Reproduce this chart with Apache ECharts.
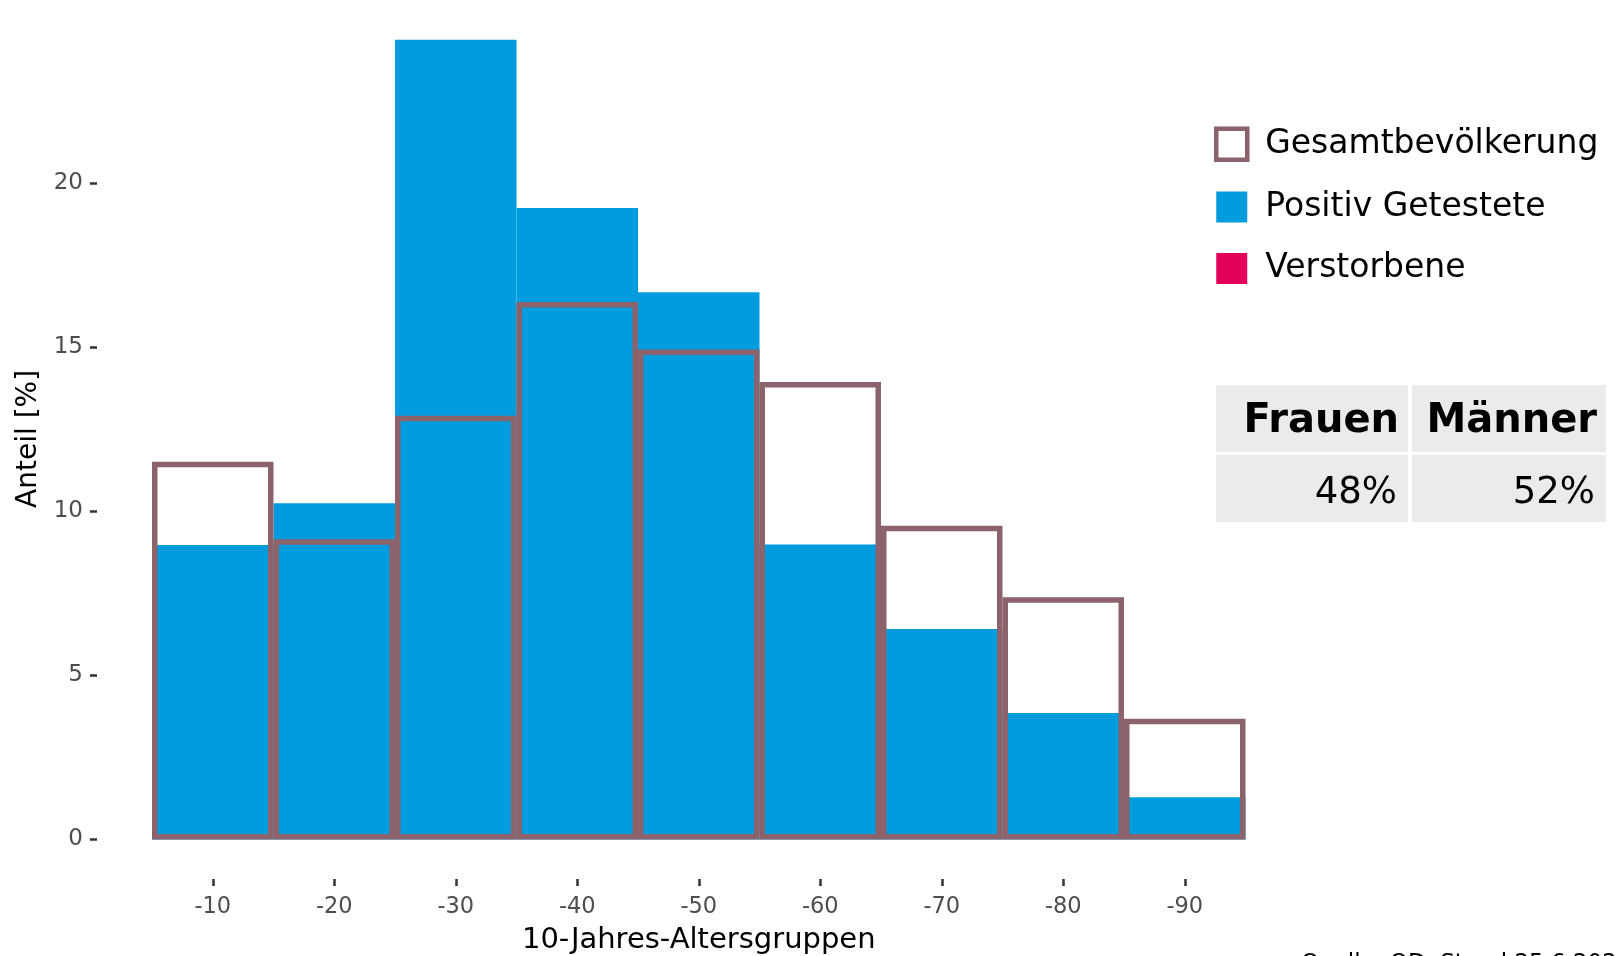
<!DOCTYPE html>
<html>
<head>
<meta charset="utf-8">
<script src="https://cdn.jsdelivr.net/npm/echarts@6/dist/echarts.min.js"></script>
<style>
html,body{margin:0;padding:0;background:#fff;}
#chart{width:1616px;height:956px;}
</style>
</head>
<body>
<div id="chart"></div>
<script>
const categories = ['-10', '-20', '-30', '-40', '-50', '-60', '-70', '-80', '-90'];
const gesamt = [11.51, 9.15, 12.91, 16.37, 14.93, 13.94, 9.56, 7.38, 3.68];
const positiv = [8.97, 10.24, 24.36, 19.24, 16.67, 8.99, 6.41, 3.85, 1.29];
const verstorbene = [0, 0, 0, 0, 0, 0, 0, 0, 0];
const yTicks = [0, 5, 10, 15, 20];
const seriesNames = ['Gesamtbevölkerung', 'Positiv Getestete', 'Verstorbene'];
const tableHeader = ['Frauen', 'Männer'];
const tableValues = ['48%', '52%'];
const sourceText = 'Quelle: OD, Stand 25.6.2020';
const xTitle = '10-Jahres-Altersgruppen';
const yTitle = 'Anteil [%]';

const FONT = 'DejaVu Sans';
const OUTLINE = '#8C626B';
const BLUE = '#009CDE';
const RED = '#E3005B';
const CELL = '#EBEBEB';

const chart = echarts.init(document.getElementById('chart'), null, {renderer: 'canvas'});

const cellX = [1216, 1412];
const cellW = [192, 194];
const rowY = [385, 455];
const rowH = 67;
const graphics = [];
for (let c = 0; c < 2; c++) {
  for (let r = 0; r < 2; r++) {
    graphics.push({type: 'rect', shape: {x: cellX[c], y: rowY[r], width: cellW[c], height: rowH},
      style: {fill: CELL}, silent: true});
  }
  graphics.push({type: 'text', x: cellX[c] + cellW[c] - 9, y: rowY[0] + rowH / 2 + 3,
    style: {text: tableHeader[c], font: 'bold 40px "' + FONT + '"', fill: '#000', align: 'right', verticalAlign: 'middle'}});
  graphics.push({type: 'text', x: cellX[c] + cellW[c] - 11, y: rowY[1] + rowH / 2 + 5,
    style: {text: tableValues[c], font: '37px "' + FONT + '"', fill: '#000', align: 'right', verticalAlign: 'middle'}});
}
graphics.push({type: 'text', x: 1301, y: 953,
  style: {text: sourceText, font: '23px "' + FONT + '"', fill: '#000', align: 'left', verticalAlign: 'top'}});

const option = {
  animation: false,
  backgroundColor: '#fff',
  textStyle: {fontFamily: FONT},
  grid: {left: 152, right: 370.5, top: 18.8, bottom: 77, containLabel: false, outerBoundsMode: 'none'},
  legend: {
    orient: 'vertical', left: 1214, top: 126.5, padding: 0,
    itemWidth: 31, itemHeight: 31, itemGap: 28.5,
    textStyle: {fontSize: 33, color: '#000', fontFamily: FONT, padding: [0, 0, 0, 13], lineHeight: 33},
    data: [
      {name: seriesNames[0], icon: 'rect', itemStyle: {color: '#fff', borderColor: OUTLINE, borderWidth: 4.5}},
      {name: seriesNames[1], icon: 'rect', itemStyle: {color: BLUE, borderWidth: 0}},
      {name: seriesNames[2], icon: 'rect', itemStyle: {color: RED, borderWidth: 0}}
    ]
  },
  xAxis: {
    type: 'category', data: categories,
    axisLine: {show: false, onZero: false},
    axisTick: {show: true, alignWithLabel: true, length: 7, lineStyle: {color: '#333', width: 2.5}},
    axisLabel: {fontSize: 22.5, color: '#4D4D4D', fontFamily: FONT, margin: 17},
    splitLine: {show: false},
    name: xTitle, nameLocation: 'middle', nameGap: 47,
    nameTextStyle: {fontSize: 29, color: '#000', fontFamily: FONT}
  },
  yAxis: {
    type: 'value', min: -1.203, max: 25, offset: 55,
    axisLine: {show: false},
    axisTick: {show: true, length: 7, lineStyle: {color: '#333', width: 2.5}, customValues: yTicks},
    axisLabel: {fontSize: 23, color: '#4D4D4D', fontFamily: FONT, margin: 14, customValues: yTicks,
      formatter: v => (yTicks.indexOf(v) >= 0 ? String(v) : '')},
    splitLine: {show: false},
    name: yTitle, nameLocation: 'middle', nameGap: 51,
    nameTextStyle: {fontSize: 28, color: '#000', fontFamily: FONT, padding: [0, 0, 0, 20]}
  },
  series: [
    {name: seriesNames[1], type: 'bar', data: positiv, barWidth: '100%', barGap: '-100%',
      itemStyle: {color: BLUE}, z: 2},
    {name: seriesNames[2], type: 'bar', data: verstorbene, barWidth: '100%', barGap: '-100%',
      itemStyle: {color: RED}, z: 3},
    {name: seriesNames[0], type: 'bar', data: gesamt, barWidth: '100%', barGap: '-100%',
      itemStyle: {color: 'rgba(0,0,0,0)', borderColor: OUTLINE, borderWidth: 5.5}, z: 4}
  ],
  graphic: graphics
};
chart.setOption(option);
</script>
</body>
</html>
